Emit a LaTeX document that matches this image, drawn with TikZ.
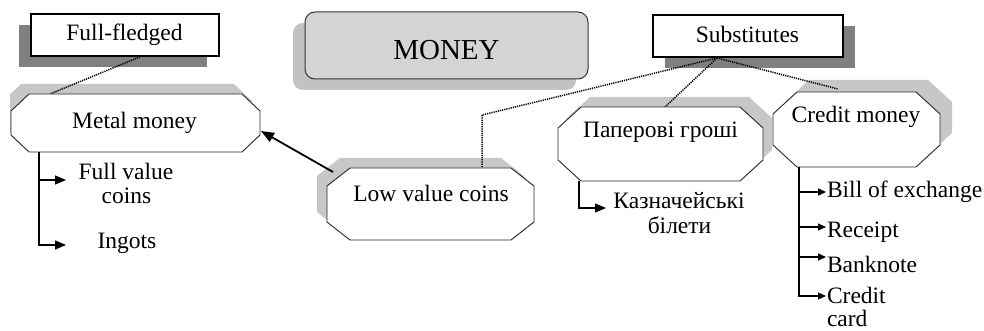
\documentclass[tikz,border=0pt]{standalone}
\usepackage{fontspec}
\setmainfont{Liberation Serif}
\usetikzlibrary{calc,arrows.meta,shadows}
% octagon path: #1 node, #2 chamfer x, #3 chamfer y, #4 #5 offset
\newcommand\octpath[5]{($(#1.north west)+(#2+#4,#5)$) -- ($(#1.north east)+(-#2+#4,#5)$) -- ($(#1.north east)+(#4,#3+#5)$) -- ($(#1.south east)+(#4,-#3+#5)$) -- ($(#1.south east)+(-#2+#4,#5)$) -- ($(#1.south west)+(#2+#4,#5)$) -- ($(#1.south west)+(#4,-#3+#5)$) -- ($(#1.north west)+(#4,#3+#5)$) -- cycle}
\tikzset{
  geo/.style={draw=none, inner sep=0pt, outer sep=0pt},
  txt/.style={inner sep=0pt, outer sep=0pt, font=\fontsize{23.5}{25}\selectfont, anchor=base},
  lbl/.style={txt, anchor=base west},
  rbox/.style={draw, line width=1.2pt, fill=white, inner sep=0pt, outer sep=0pt},
  lightshade/.style={fill=black!22},
  octline/.style={draw=black!85, line width=0.9pt, fill=white, line join=miter},
  conn/.style={line width=1.5pt, dash pattern=on 1.2pt off 1pt},
  branch/.style={line width=1.4pt, -{Triangle[length=11pt,width=9pt]}},
  cbranch/.style={line width=1.1pt, -{Triangle[length=8pt,width=7pt]}},
  bigarrow/.style={line width=1.8pt, -{Triangle[length=13pt,width=10pt]}},
}
\begin{document}
\begin{tikzpicture}[x=1pt,y=-1pt]
\useasboundingbox (0,0) rectangle (984,331);
% rectangular boxes
\node[rbox, minimum width=188pt, minimum height=42pt,
  drop shadow={shadow xshift=-12pt, shadow yshift=-11pt, fill=black!50, opacity=1}] (full) at (125,35) {};
\node[rbox, line width=1pt, draw=black!80, rounded corners=10pt, fill=black!17, minimum width=283pt, minimum height=67pt,
  drop shadow={shadow xshift=-12pt, shadow yshift=-11pt, fill=black!24, opacity=1}] (money) at (446.5,45.5) {};
\node[rbox, minimum width=190pt, minimum height=42pt,
  drop shadow={shadow xshift=12pt, shadow yshift=-11pt, fill=black!50, opacity=1}] (subst) at (748,36) {};
% octagon frames (geometry)
\node[geo, minimum width=249pt, minimum height=58pt] (metal) at (135.5,123) {};
\node[geo, minimum width=207pt, minimum height=72pt] (low) at (430.5,204) {};
\node[geo, minimum width=205pt, minimum height=74pt] (paper) at (660.5,144) {};
\node[geo, minimum width=167pt, minimum height=75pt] (credit) at (856.5,129.5) {};
% octagon shadows
\begin{scope}
  \clip (10,0) rectangle (984,331);
  \fill[lightshade] \octpath{metal}{18}{17}{-8}{-10};
\end{scope}
\fill[lightshade] \octpath{low}{23}{18}{-10}{-10};
\fill[lightshade] \octpath{paper}{23}{21}{9}{-10};
\fill[lightshade] \octpath{credit}{24}{22}{12}{-12};
% dotted connectors
\coordinate (sj) at ($(subst.south)+(-31,1)$);
\coordinate (bend) at (482,115);
\draw[conn] ($(full.south)+(17,0)$) -- ($(metal.north)+(-85.5,0)$);
\draw[conn] (sj) -- (bend) -- ($(low.north)+(51.5,0)$);
\draw[conn] (sj) -- ($(paper.north)+(4.5,0)$);
\draw[conn] (sj) -- ($(credit.north)+(-18.5,-3)$);
% octagons
\draw[octline] \octpath{metal}{18}{17}{0}{0};
\draw[octline] \octpath{low}{23}{18}{0}{0};
\draw[octline] \octpath{paper}{23}{21}{0}{0};
\draw[octline] \octpath{credit}{24}{22}{0}{0};
% arrow low -> metal
\draw[bigarrow] ($(low.north west)+(6,4)$) -- ($(metal.east)+(1,8)$);
% branches
\coordinate (mb) at ($(metal.south west)+(28,0)$);
\coordinate (fvA) at (66,180);
\coordinate (ingA) at (66,245);
\draw[branch] (mb) |- (fvA);
\draw[branch] (mb) |- (ingA);
\coordinate (pb) at ($(paper.south west)+(21,0)$);
\coordinate (kazA) at (606,208);
\draw[branch] (pb) |- (kazA);
\coordinate (cb) at ($(credit.south west)+(26,0)$);
\coordinate (billA) at (826,192);
\coordinate (recA) at (826,227);
\coordinate (bankA) at (826,257);
\coordinate (ccA) at (826,296);
\draw[cbranch, line width=1.5pt] (cb) |- (billA);
\draw[cbranch] (cb) |- (recA);
\draw[cbranch, line width=1.5pt] (cb) |- (bankA);
\draw[cbranch] (cb) |- (ccA);
% texts
\node[txt] (fullT) at (124.5,41) {Full-fledged};
\node[txt, font=\fontsize{29}{31}\selectfont] (moneyT) at (446.5,60) {MONEY};
\node[txt] (substT) at (747.5,43) {Substitutes};
\node[txt] (metalT) at (134.5,129) {Metal money};
\node[txt] (lowT) at (431,201) {Low value coins};
\node[txt] (paperT) at (660.5,138) {Паперові гроші};
\node[txt] (creditT) at (856,123) {Credit money};
\node[txt] (fv1) at (126,179) {Full value};
\node[txt] (fv2) at (126.5,204) {coins};
\node[txt] (ingT) at (127,248) {Ingots};
\node[txt] (kaz1) at (679,208) {Казначейські};
\node[txt] (kaz2) at (679.5,233) {білети};
\node[lbl] (billT) at (827,197) {Bill of exchange};
\node[lbl] (recT) at (827,237) {Receipt};
\node[lbl] (bankT) at (827,272) {Banknote};
\node[lbl] (cc1) at (827,303) {Credit};
\node[lbl] (cc2) at (827,326) {card};
\end{tikzpicture}
\end{document}
